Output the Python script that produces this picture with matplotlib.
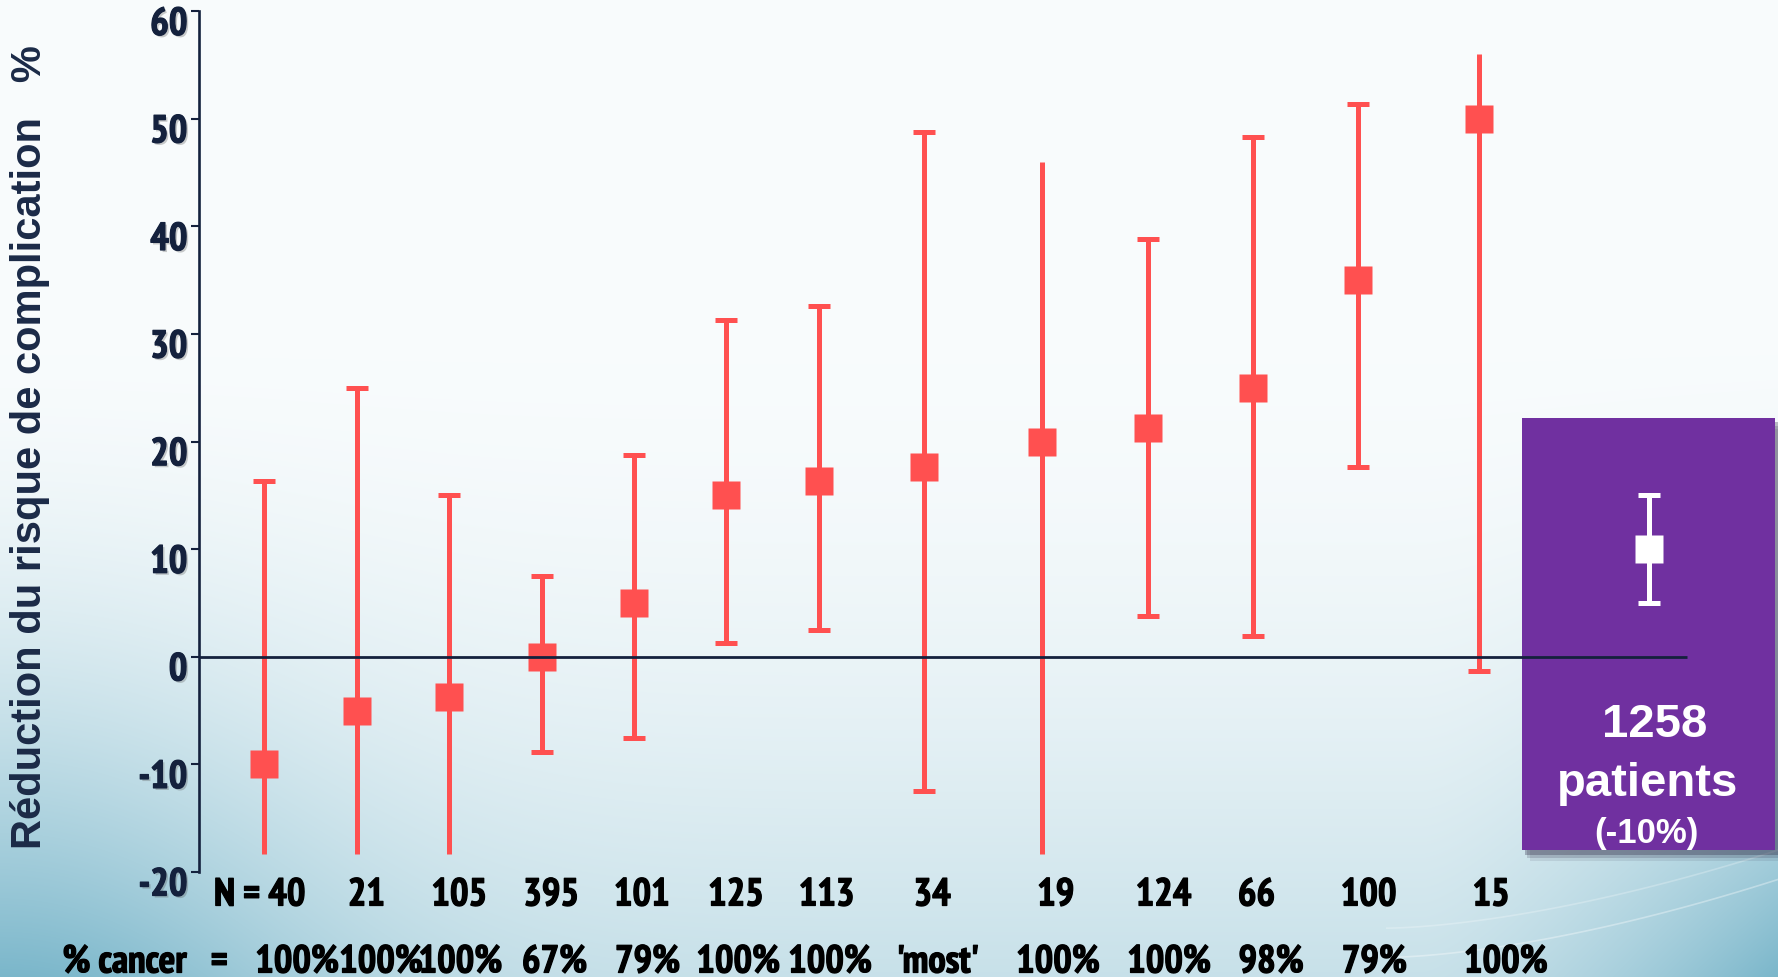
import numpy as np
import matplotlib
matplotlib.use("Agg")
import matplotlib.pyplot as plt
from matplotlib.patches import Rectangle
from matplotlib.transforms import ScaledTranslation, blended_transform_factory
import matplotlib.patheffects as pe
from matplotlib import font_manager

# ---------------- data ----------------
n_labels = ["N = 40", "21", "105", "395", "101", "125", "113", "34", "19", "124", "66", "100", "15"]
pct_cancer = ["100%", "100%", "100%", "67%", "79%", "100%", "100%", "'most'", "100%", "100%", "98%", "79%", "100%"]
estimate = [-10, -5, -3.7, 0, 5, 15, 16.3, 17.6, 20, 21.3, 25, 35, 50]
upper = [16.3, 25, 15, 7.5, 18.8, 31.3, 32.6, 48.8, 46, 38.8, 48.3, 51.4, 56]
lower = [-18.3, -18.3, -18.3, -8.8, -7.5, 1.3, 2.5, -12.5, -18.3, 3.8, 1.9, 17.6, -1.3]
top_cap = [1, 1, 1, 1, 1, 1, 1, 1, 0, 1, 1, 1, 0]
bottom_cap = [0, 0, 0, 1, 1, 1, 1, 1, 0, 1, 1, 1, 1]
pooled_estimate = 10
pooled_lower = 5
pooled_upper = 15
pooled_text = ["1258", "patients", "(-10%)"]
yticks = [-20, -10, 0, 10, 20, 30, 40, 50, 60]

# layout (horizontal positions in slide units)
x_pos = [233, 315, 396, 478, 559, 640, 722, 815, 919, 1012, 1105, 1198, 1304]
n_label_x = [229, 323, 405, 486, 566, 649, 729, 822, 931, 1026, 1108, 1207, 1315]
pct_label_x = [262, 336, 406, 489, 571, 651, 732, 827, 933, 1031, 1121, 1212, 1328]
pooled_x = 1454

W, H = 1778, 977
fig = plt.figure(figsize=(W / 100, H / 100), dpi=100)

# ---------------- background gradient ----------------
yy, xx = np.mgrid[0:1:H * 1j, 0:1:W * 1j]
t = np.clip((yy - 0.35) / 0.65, 0, 1)
left = np.exp(-(xx / 0.18) ** 2)
right = np.clip((xx - 0.80) / 0.2, 0, 1) ** 1.5
w = t ** 1.8 * (0.38 + 0.6 * np.maximum(left, right))
w = np.clip(w, 0, 1)
top_c = np.array([0.973, 0.986, 0.990])
bot_c = np.array([0.47, 0.71, 0.79])
img = top_c[None, None, :] * (1 - w[..., None]) + bot_c[None, None, :] * w[..., None]
bg = fig.add_axes([0, 0, 1, 1], zorder=-10)
bg.imshow(img, aspect="auto", extent=[0, 1, 0, 1], origin="upper")
sx = np.linspace(0.78, 1.0, 100)
for k, a in [(0.0, 0.35), (0.03, 0.25)]:
    bg.plot(sx, 0.02 + k + 0.9 * (sx - 0.78) ** 1.6, color="white", lw=1.2, alpha=a)
bg.set_xlim(0, 1)
bg.set_ylim(0, 1)
bg.axis("off")

# ---------------- fonts ----------------
ttf = font_manager.fontManager.ttflist
avail = {f.name for f in ttf}
wide = [f for f in ["Liberation Sans", "DejaVu Sans"] if f in avail] or ["DejaVu Sans"]


def _is_bold(f):
    w_ = f.weight
    if isinstance(w_, str):
        return "bold" in w_.lower()
    return w_ >= 600


narrow_font = None
narrow_stretch = "normal"
for f in ttf:
    if ("Narrow" in f.name) and _is_bold(f):
        narrow_font = f.name
        break
if narrow_font is None:
    for f in ttf:
        st = f.stretch
        if isinstance(st, str) and "condensed" in st and _is_bold(f) and "Mono" not in f.name:
            narrow_font = f.name
            narrow_stretch = st
            break
if narrow_font is None:
    for f in ttf:
        if "Condensed" in f.name and "Mono" not in f.name:
            narrow_font = f.name
            break
is_narrow = narrow_font is not None
narrow = [narrow_font] if is_narrow else wide
num_size = 28 if is_narrow else 22

navy = "#14213D"
red = "#FF5050"

# ---------------- main axes ----------------
y_top_px, y_bot_px = 11.3, 872
ax_left = 198.5 / W
ax = fig.add_axes([ax_left, 1 - y_bot_px / H, 1 - ax_left, (y_bot_px - y_top_px) / H])
ax.patch.set_alpha(0)
ax.set_xlim(175, 1568)
ax.set_ylim(-20, 60)

for s in ["top", "right", "bottom"]:
    ax.spines[s].set_visible(False)
ax.spines["left"].set_color(navy)
ax.spines["left"].set_linewidth(1.9)
ax.set_xticks([])
ax.set_yticks(yticks)
ax.set_yticklabels([str(v) for v in yticks])
ax.tick_params(axis="y", direction="out", length=6, width=1.5, color=navy, pad=2)
tick_fx = [pe.withSimplePatchShadow(offset=(1.5, -1.5), shadow_rgbFace="#555555", alpha=0.3),
           pe.Stroke(linewidth=0.9, foreground=navy), pe.Normal()]
for lab in ax.get_yticklabels():
    lab.set_fontfamily(narrow)
    lab.set_fontstretch(narrow_stretch)
    lab.set_fontweight("bold")
    lab.set_fontsize(num_size)
    lab.set_color(navy)
    lab.set_path_effects(tick_fx)
    lab.set_transform(lab.get_transform() + ScaledTranslation(0, -0.10, fig.dpi_scale_trans))

# purple pooled box with shadow
box_x0, box_x1 = 1342, 1565
box_y0, box_y1 = -18.0, 22.2
for dx, dy, a in [(7, -1.0, 0.10), (5, -0.7, 0.18), (3, -0.4, 0.3)]:
    ax.add_patch(Rectangle((box_x0 + dx, box_y0 + dy), box_x1 - box_x0, box_y1 - box_y0,
                           facecolor="#2A2540", alpha=a, edgecolor="none", zorder=1, clip_on=False))
ax.add_patch(Rectangle((box_x0, box_y0), box_x1 - box_x0, box_y1 - box_y0,
                       facecolor="#7030A0", edgecolor="none", zorder=2, clip_on=False))

# zero line
ax.hlines(0, 175, 1488, color=navy, lw=2.0, zorder=6)

# study error bars
est = np.array(estimate)
up = np.array(upper)
lo = np.array(lower)
ax.errorbar(x_pos, est, yerr=[est - lo, up - est], fmt="none", ecolor=red,
            elinewidth=3.6, capsize=0, zorder=4)
tc = [i for i, c in enumerate(top_cap) if c]
bc = [i for i, c in enumerate(bottom_cap) if c]
ax.plot([x_pos[i] for i in tc], [upper[i] for i in tc], linestyle="none", marker="_",
        ms=16, mew=3.6, color=red, zorder=4)
ax.plot([x_pos[i] for i in bc], [lower[i] for i in bc], linestyle="none", marker="_",
        ms=16, mew=3.6, color=red, zorder=4)
ax.plot(x_pos, estimate, linestyle="none", marker="s", ms=19.5, color=red, mec="none", zorder=5)

# pooled estimate (white)
ax.errorbar([pooled_x], [pooled_estimate],
            yerr=[[pooled_estimate - pooled_lower], [pooled_upper - pooled_estimate]],
            fmt="s", ms=19.5, color="white", mec="none", ecolor="white",
            elinewidth=3.6, capsize=8, capthick=3.6, zorder=7)

ax.text(1459, -6.3, pooled_text[0], color="white", fontsize=34, fontweight="bold",
        family=wide, ha="center", va="center", zorder=8)
ax.text(1453, -11.8, pooled_text[1], color="white", fontsize=34, fontweight="bold",
        family=wide, ha="center", va="center", zorder=8)
ax.text(1452, -16.4, pooled_text[2], color="white", fontsize=25, fontweight="bold",
        family=wide, ha="center", va="center", zorder=8)

# bottom labels
trans = blended_transform_factory(ax.transData, fig.transFigure)
bold_fx = [pe.Stroke(linewidth=0.9, foreground="black"), pe.Normal()]
lab_kw = dict(fontsize=num_size, fontweight="bold", family=narrow, fontstretch=narrow_stretch,
              color="black", path_effects=bold_fx)
for xl, s in zip(n_label_x, n_labels):
    fig.text(xl, 1 - 896 / H, s, transform=trans, ha="center", va="center", **lab_kw)
fig.text(55, 1 - 963 / H, "% cancer   =", transform=trans, ha="left", va="center", **lab_kw)
for xl, s in zip(pct_label_x, pct_cancer):
    fig.text(xl, 1 - 963 / H, s, transform=trans, ha="center", va="center", **lab_kw)

# y label
fig.text(30 / W, 1 - 447 / H, "Réduction du risque de complication   %", rotation=90,
         ha="center", va="center", fontsize=30, fontweight="bold", family=wide, color="#1B2A47")

fig.savefig("out.png", dpi=100)
